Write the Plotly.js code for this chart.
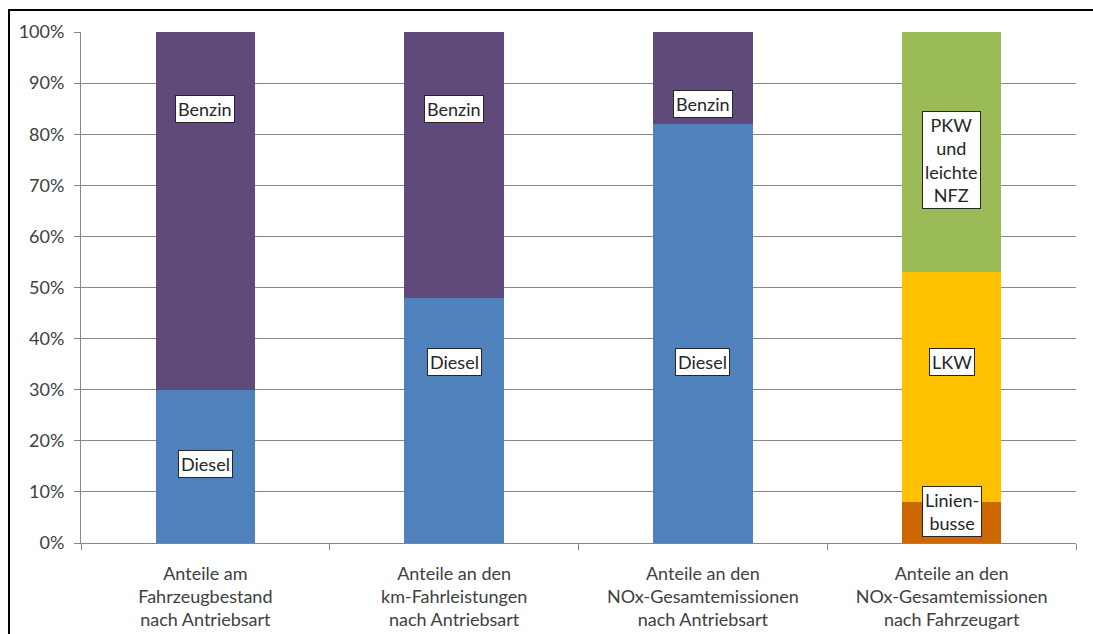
<!DOCTYPE html>
<html>
<head>
<meta charset="utf-8">
<script src="https://cdn.plot.ly/plotly-3.0.1.min.js"></script>
<style>
  html, body { margin: 0; padding: 0; background: #ffffff; }
  #wrap { position: relative; width: 1093px; height: 634px; overflow: hidden; }
  #chart { position: absolute; left: 0; top: 0; width: 1093px; height: 634px; }
  #frame { position: absolute; left: 8px; top: 9px; width: 1200px; height: 700px;
           border-left: 2px solid #000; border-top: 2px solid #000; pointer-events: none; }
</style>
</head>
<body>
<div id="wrap">
  <div id="chart"></div>
  <div id="frame"></div>
</div>
<script>
// Categories (x-axis)
const categories = [
  "Anteile am<br>Fahrzeugbestand<br>nach Antriebsart",
  "Anteile an den<br>km-Fahrleistungen<br>nach Antriebsart",
  "Anteile an den<br>NOx-Gesamtemissionen<br>nach Antriebsart",
  "Anteile an den<br>NOx-Gesamtemissionen<br>nach Fahrzeugart"
];
// Series values (%)
const diesel      = [30, 48, 82, null];
const benzin      = [70, 52, 18, null];
const linienbusse = [null, null, null, 8];
const lkw         = [null, null, null, 45];
const pkw         = [null, null, null, 47];
// Tick labels
const yTickVals  = [0, 10, 20, 30, 40, 50, 60, 70, 80, 90, 100];
const yTickTexts = ["0%", "10%", "20%", "30%", "40%", "50%", "60%", "70%", "80%", "90%", "100%"];

const font = "Lato, 'Open Sans', sans-serif";

function bar(name, y, color) {
  return { type: "bar", name: name, x: categories, y: y,
           marker: { color: color, line: { width: 0 } }, hoverinfo: "name+y" };
}

const traces = [
  bar("Diesel", diesel, "#4F81BD"),
  bar("Benzin", benzin, "#604A7B"),
  bar("Linienbusse", linienbusse, "#CC6600"),
  bar("LKW", lkw, "#FFC000"),
  bar("PKW und leichte NFZ", pkw, "#9BBB59")
];

function label(i, y, text) {
  return { x: categories[i], y: y, xref: "x", yref: "y", text: text, showarrow: false,
           bgcolor: "#ffffff", bordercolor: "#262626", borderwidth: 1, borderpad: 2,
           font: { family: font, size: 18, color: "#262626" } };
}

const annotations = [
  label(0, 85, "Benzin"), label(0, 15.5, "Diesel"),
  label(1, 85, "Benzin"), label(1, 35.4, "Diesel"),
  label(2, 86, "Benzin"), label(2, 35.4, "Diesel"),
  label(3, 75, "PKW<br>und<br>leichte<br>NFZ"),
  label(3, 35.4, "LKW"),
  label(3, 6.1, "Linien-<br>busse")
];

const layout = {
  width: 1093, height: 634,
  margin: { l: 81, r: 17, t: 32, b: 91, pad: 0 },
  paper_bgcolor: "#ffffff", plot_bgcolor: "#ffffff",
  barmode: "stack", bargap: 0.6,
  showlegend: false,
  font: { family: font, size: 18, color: "#404040" },
  xaxis: {
    type: "category", tickson: "boundaries", ticks: "outside", ticklen: 6,
    tickcolor: "#868686", showgrid: false, showline: true, linecolor: "#868686", linewidth: 1,
    ticklabelstandoff: 14,
    tickfont: { family: font, size: 18, color: "#404040" }, zeroline: false, fixedrange: true
  },
  yaxis: {
    range: [0, 100], tickvals: yTickVals, ticktext: yTickTexts,
    ticks: "outside", ticklen: 6, tickcolor: "#868686",
    showgrid: true, gridcolor: "#868686", gridwidth: 1,
    showline: true, linecolor: "#868686", linewidth: 1, zeroline: false,
    ticklabelstandoff: 6,
    tickfont: { family: font, size: 18, color: "#404040" }, fixedrange: true
  },
  annotations: annotations
};

Plotly.newPlot("chart", traces, layout, { displayModeBar: false, staticPlot: true });
</script>
</body>
</html>
